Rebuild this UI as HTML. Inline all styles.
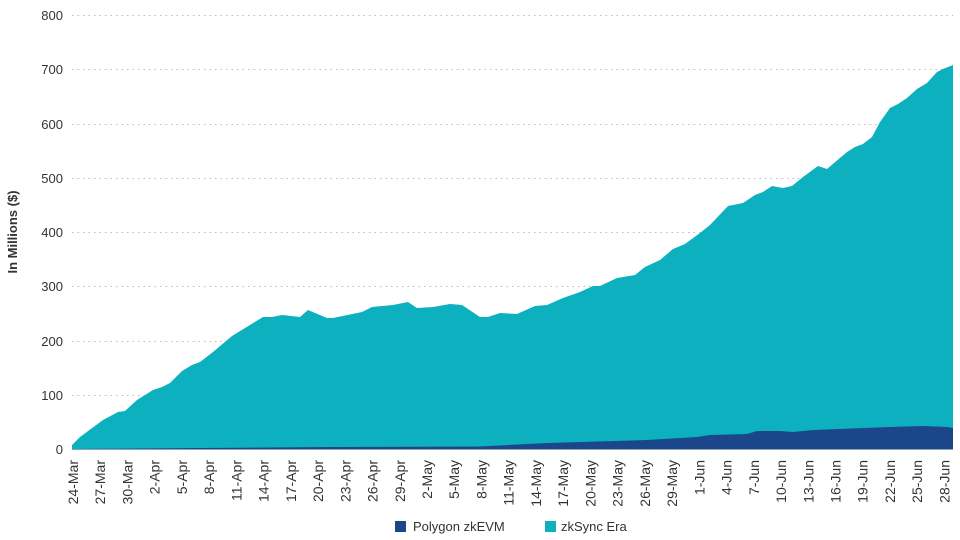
<!DOCTYPE html>
<html><head><meta charset="utf-8"><style>
html,body{margin:0;padding:0;background:#fff;}
svg{display:block;font-family:"Liberation Sans",sans-serif;}
</style></head><body>
<svg width="960" height="540" viewBox="0 0 960 540" xmlns="http://www.w3.org/2000/svg">
<g stroke="#bbb" stroke-width="1" stroke-dasharray="1.5,4">
<line x1="72" x2="953" y1="15.5" y2="15.5"/>
<line x1="72" x2="953" y1="69.5" y2="69.5"/>
<line x1="72" x2="953" y1="124.5" y2="124.5"/>
<line x1="72" x2="953" y1="178.5" y2="178.5"/>
<line x1="72" x2="953" y1="232.5" y2="232.5"/>
<line x1="72" x2="953" y1="286.5" y2="286.5"/>
<line x1="72" x2="953" y1="341.5" y2="341.5"/>
<line x1="72" x2="953" y1="395.5" y2="395.5"/>
</g>
<g font-size="13" fill="#333" text-anchor="end">
<text x="63" y="20">800</text><text x="63" y="74">700</text><text x="63" y="129">600</text><text x="63" y="183">500</text><text x="63" y="237">400</text><text x="63" y="291">300</text><text x="63" y="346">200</text><text x="63" y="400">100</text><text x="63" y="454">0</text>
</g>
<text transform="translate(17,232) rotate(-90)" font-size="13" font-weight="bold" fill="#333" text-anchor="middle">In Millions ($)</text>
<path fill="#0db0bf" d="M72,449 L72,445 L80,437 L103,420 L118,412 L125,411 L137,400 L153,390 L162,387 L170,383 L182,371 L192,365 L200,362 L213,352 L232,336 L250,325 L263,317 L272,317 L282,315 L300,317 L308,310 L327,318 L333,318 L362,312 L372,307 L393,305 L408,302 L417,308 L433,307 L450,304 L462,305 L480,317 L488,317 L500,313 L517,314 L535,306 L547,305 L563,298 L580,292 L593,286 L600,286 L617,278 L635,275 L645,267 L660,260 L673,249 L685,244 L700,233 L710,225 L728,206 L743,203 L755,195 L763,192 L772,186 L783,188 L792,186 L803,177 L818,166 L827,169 L847,152 L855,147 L863,144 L872,137 L880,122 L890,108 L898,104 L907,98 L917,89 L927,83 L937,72 L943,69 L953,65 L953,449 Z"/>
<path fill="#1b468a" d="M72,449 L200,448 L330,447 L480,446.5 L547,443 L647,440 L697,437 L710,435 L747,434 L757,431 L780,431 L793,432 L813,430 L890,427 L923,426 L947,427 L953,428 L953,449.5 L72,449.5 Z"/>
<g font-size="14" fill="#333" text-anchor="end">
<text transform="translate(78,460) rotate(-90)">24-Mar</text>
<text transform="translate(105.2,460) rotate(-90)">27-Mar</text>
<text transform="translate(132.4,460) rotate(-90)">30-Mar</text>
<text transform="translate(159.7,460) rotate(-90)">2-Apr</text>
<text transform="translate(186.9,460) rotate(-90)">5-Apr</text>
<text transform="translate(214.1,460) rotate(-90)">8-Apr</text>
<text transform="translate(241.4,460) rotate(-90)">11-Apr</text>
<text transform="translate(268.6,460) rotate(-90)">14-Apr</text>
<text transform="translate(295.8,460) rotate(-90)">17-Apr</text>
<text transform="translate(323.1,460) rotate(-90)">20-Apr</text>
<text transform="translate(350.3,460) rotate(-90)">23-Apr</text>
<text transform="translate(377.5,460) rotate(-90)">26-Apr</text>
<text transform="translate(404.8,460) rotate(-90)">29-Apr</text>
<text transform="translate(432,460) rotate(-90)">2-May</text>
<text transform="translate(459.2,460) rotate(-90)">5-May</text>
<text transform="translate(486.5,460) rotate(-90)">8-May</text>
<text transform="translate(513.7,460) rotate(-90)">11-May</text>
<text transform="translate(540.9,460) rotate(-90)">14-May</text>
<text transform="translate(568.2,460) rotate(-90)">17-May</text>
<text transform="translate(595.4,460) rotate(-90)">20-May</text>
<text transform="translate(622.6,460) rotate(-90)">23-May</text>
<text transform="translate(649.9,460) rotate(-90)">26-May</text>
<text transform="translate(677.1,460) rotate(-90)">29-May</text>
<text transform="translate(704.3,460) rotate(-90)">1-Jun</text>
<text transform="translate(731.6,460) rotate(-90)">4-Jun</text>
<text transform="translate(758.8,460) rotate(-90)">7-Jun</text>
<text transform="translate(786,460) rotate(-90)">10-Jun</text>
<text transform="translate(813.3,460) rotate(-90)">13-Jun</text>
<text transform="translate(840.5,460) rotate(-90)">16-Jun</text>
<text transform="translate(867.7,460) rotate(-90)">19-Jun</text>
<text transform="translate(895,460) rotate(-90)">22-Jun</text>
<text transform="translate(922.2,460) rotate(-90)">25-Jun</text>
<text transform="translate(949.4,460) rotate(-90)">28-Jun</text>
</g>
<rect x="395" y="521" width="11" height="11" fill="#1b468a"/>
<text x="413" y="531" font-size="13" fill="#333">Polygon zkEVM</text>
<rect x="545" y="521" width="11" height="11" fill="#0db0bf"/>
<text x="561" y="531" font-size="13" fill="#333">zkSync Era</text>
</svg>
</body></html>
